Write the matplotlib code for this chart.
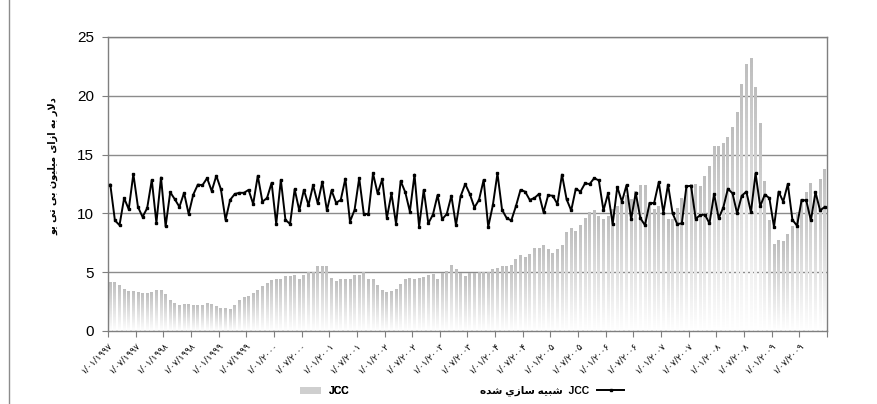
import numpy as np
import matplotlib.pyplot as plt
from matplotlib.colors import LinearSegmentedColormap
from matplotlib.font_manager import FontProperties
from matplotlib.lines import Line2D
from matplotlib.patches import Patch

# Monthly JCC price, Jan 1997 - Dec 2009 ($ per million BTU)
jcc = [
    4.15, 4.13, 3.84, 3.50, 3.33, 3.37, 3.30, 3.23, 3.23, 3.30, 3.45, 3.48,
    3.14, 2.63, 2.38, 2.14, 2.29, 2.28, 2.20, 2.20, 2.20, 2.35, 2.28, 2.10,
    1.92, 1.91, 1.84, 2.20, 2.63, 2.83, 2.92, 3.17, 3.48, 3.82, 4.05, 4.27,
    4.40, 4.40, 4.62, 4.65, 4.70, 4.40, 4.75, 4.95, 4.95, 5.50, 5.50, 5.50,
    4.45, 4.25, 4.40, 4.40, 4.40, 4.75, 4.75, 4.95, 4.40, 4.40, 3.85, 3.45,
    3.30, 3.35, 3.50, 3.95, 4.35, 4.45, 4.38, 4.45, 4.55, 4.75, 4.80, 4.38,
    4.85, 5.10, 5.55, 5.25, 4.85, 4.60, 4.85, 4.90, 4.95, 4.95, 4.95, 5.20,
    5.30, 5.45, 5.50, 5.55, 6.05, 6.45, 6.25, 6.50, 7.00, 7.00, 7.30, 6.90,
    6.60, 6.95, 7.30, 8.35, 8.75, 8.50, 9.00, 9.60, 10.05, 10.25, 9.70, 9.45,
    9.75, 10.30, 10.55, 11.00, 11.50, 11.20, 11.90, 12.35, 12.40, 10.90, 10.30, 10.60,
    10.00, 9.45, 9.50, 10.45, 11.30, 12.28, 12.43, 12.43, 12.28, 13.13, 13.99, 15.68,
    15.68, 15.92, 16.48, 17.33, 18.58, 20.94, 22.64, 23.20, 20.74, 17.62, 12.71, 9.39,
    7.39, 7.69, 7.60, 8.17, 8.88, 10.07, 11.15, 11.77, 12.57, 11.72, 12.85, 13.70,
]

# Simulated JCC series
jcc_sim = [
    12.45, 9.40, 9.00, 11.30, 10.35, 13.35, 10.55, 9.70, 10.45, 12.85, 9.20, 13.05,
    8.90, 11.80, 11.20, 10.55, 11.75, 9.95, 11.60, 12.45, 12.40, 13.00, 11.90, 13.20,
    12.05, 9.45, 11.15, 11.65, 11.75, 11.75, 12.00, 10.80, 13.20, 11.00, 11.30, 12.60,
    9.10, 12.85, 9.45, 9.10, 12.05, 10.25, 12.00, 10.70, 12.40, 10.85, 12.70, 10.25,
    11.95, 10.90, 11.15, 12.95, 9.30, 10.30, 13.00, 9.95, 9.95, 13.40, 11.70, 12.90,
    9.60, 11.70, 9.10, 12.75, 11.80, 10.15, 13.30, 8.87, 12.00, 9.15, 9.90, 11.55,
    9.50, 9.95, 11.50, 9.00, 11.45, 12.50, 11.65, 10.50, 11.15, 12.85, 8.85, 10.70,
    13.40, 10.30, 9.60, 9.40, 10.60, 12.00, 11.85, 11.15, 11.30, 11.65, 10.10, 11.55,
    11.50, 10.80, 13.30, 11.20, 10.25, 12.10, 11.85, 12.55, 12.50, 13.00, 12.80, 10.25,
    11.70, 9.10, 12.25, 11.00, 12.40, 9.50, 11.75, 9.60, 9.00, 10.85, 10.90, 12.65,
    10.05, 12.45, 10.00, 9.10, 9.15, 12.30, 12.35, 9.55, 9.85, 9.90, 9.15, 11.65,
    9.60, 10.50, 12.10, 11.70, 10.00, 11.50, 11.85, 10.10, 13.40, 10.60, 11.60, 11.30,
    8.85, 11.85, 11.00, 12.50, 9.45, 8.95, 11.15, 11.10, 9.40, 11.80, 10.25, 10.55,
]

tick_dates = [
    '1/01/1997', '1/07/1997', '1/01/1998', '1/07/1998', '1/01/1999', '1/07/1999',
    '1/01/2000', '1/07/2000', '1/01/2001', '1/07/2001', '1/01/2002', '1/07/2002',
    '1/01/2003', '1/07/2003', '1/01/2004', '1/07/2004', '1/01/2005', '1/07/2005',
    '1/01/2006', '1/07/2006', '1/01/2007', '1/07/2007', '1/01/2008', '1/07/2008',
    '1/01/2009', '1/07/2009',
]

y_title = 'دلار به ازای میلیون بی تی یو'
sim_title = 'شبیه سازي شده'

# --- minimal Arabic-script shaping (matplotlib draws glyphs left to right, unshaped)
# forms: isolated, final, initial, medial
FORMS = {
    'ا': ('\uFE8D', '\uFE8E', None, None),
    'ب': ('\uFE8F', '\uFE90', '\uFE91', '\uFE92'),
    'ت': ('\uFE95', '\uFE96', '\uFE97', '\uFE98'),
    'د': ('\uFEA9', '\uFEAA', None, None),
    'ر': ('\uFEAD', '\uFEAE', None, None),
    'ز': ('\uFEAF', '\uFEB0', None, None),
    'س': ('\uFEB1', '\uFEB2', '\uFEB3', '\uFEB4'),
    'ش': ('\uFEB5', '\uFEB6', '\uFEB7', '\uFEB8'),
    'ل': ('\uFEDD', '\uFEDE', '\uFEDF', '\uFEE0'),
    'م': ('\uFEE1', '\uFEE2', '\uFEE3', '\uFEE4'),
    'ن': ('\uFEE5', '\uFEE6', '\uFEE7', '\uFEE8'),
    'ه': ('\uFEE9', '\uFEEA', '\uFEEB', '\uFEEC'),
    'و': ('\uFEED', '\uFEEE', None, None),
    'ي': ('\uFEF1', '\uFEF2', '\uFEF3', '\uFEF4'),
    'ی': ('\uFEEF', '\uFEF0', '\uFEF3', '\uFEF4'),
}


def joins_next(ch):
    return ch in FORMS and FORMS[ch][2] is not None


def shape_rtl(text):
    out = []
    i = 0
    while i < len(text):
        ch = text[i]
        prev = text[i - 1] if i > 0 else ' '
        linked = joins_next(prev)
        if ch == 'ل' and i + 1 < len(text) and text[i + 1] == 'ا':
            out.append('\uFEFC' if linked else '\uFEFB')
            i += 2
            continue
        if ch not in FORMS:
            out.append(ch)
            i += 1
            continue
        nxt = text[i + 1] if i + 1 < len(text) else ' '
        fwd = joins_next(ch) and nxt in FORMS
        iso, fin, ini, med = FORMS[ch]
        if linked and fwd:
            out.append(med)
        elif linked:
            out.append(fin)
        elif fwd:
            out.append(ini)
        else:
            out.append(iso)
        i += 1
    return ''.join(out)[::-1]


def persian_digits(s):
    return s.translate(str.maketrans('0123456789', '۰۱۲۳۴۵۶۷۸۹'))


fig = plt.figure(figsize=(8.78, 4.04), dpi=100)
ax = fig.add_axes([108 / 878, 1 - 331 / 404, (827 - 108) / 878, (331 - 37) / 404])

months = np.arange(len(jcc))

# bars with a vertical grey-to-white fill
bars = ax.bar(months, jcc, width=0.62, color='none', edgecolor='none')
grad = np.linspace(0, 1, 128).reshape(-1, 1)
gray_fade = LinearSegmentedColormap.from_list('gray_fade', ['#ffffff', '#bebebe'])
for bar in bars:
    x0, h, w = bar.get_x(), bar.get_height(), bar.get_width()
    ax.imshow(grad, extent=[x0, x0 + w, 0, h], origin='lower', aspect='auto',
              cmap=gray_fade, interpolation='bilinear', zorder=2)

ax.plot(months, jcc_sim, color='black', lw=1.4, marker='s', ms=1.6, zorder=4)

ax.set_xlim(-0.5, len(jcc) - 0.5)
ax.set_ylim(0, 25)
ax.set_yticks(range(0, 26, 5))
ax.yaxis.grid(True, color='#8c8c8c', lw=1.0)
ax.set_axisbelow(True)
for side in ['left', 'right', 'top', 'bottom']:
    ax.spines[side].set_color('#7f7f7f')
    ax.spines[side].set_linewidth(1.0)

ax.set_xticks(np.arange(-0.5, len(jcc), 6))
ax.set_xticklabels([persian_digits(d) for d in tick_dates] + [''],
                   rotation=45, ha='right', rotation_mode='anchor',
                   fontsize=6.5, family='DejaVu Sans')
ax.tick_params(axis='x', length=4, color='#7f7f7f', pad=3)
ax.tick_params(axis='y', length=4, color='#7f7f7f', labelsize=11, pad=6)
for lbl in ax.get_yticklabels():
    lbl.set_family('Liberation Sans')

fig.text(53 / 878, 1 - 166 / 404, shape_rtl(y_title), rotation=90,
         ha='center', va='center', fontsize=7, weight='bold', family='DejaVu Sans')

# legend entries
leg_font = FontProperties(family=['Liberation Sans', 'DejaVu Sans'], weight='bold', size=7.5)
leg1 = fig.legend(handles=[Patch(facecolor='#cfcfcf', edgecolor='none')], labels=['JCC'],
                  loc='center', bbox_to_anchor=(325 / 878, 1 - 391 / 404),
                  frameon=False, prop=leg_font, handlelength=2.0, handleheight=0.6)
fig.add_artist(leg1)
fig.legend(handles=[Line2D([], [], color='black', lw=1.4, marker='s', ms=1.6)],
           labels=[shape_rtl(sim_title) + '  JCC'], markerfirst=False,
           loc='center', bbox_to_anchor=(552 / 878, 1 - 391 / 404),
           frameon=False, prop=leg_font, handlelength=2.6)

# chart frame
fig.add_artist(Line2D([8.5 / 878, 8.5 / 878], [0, 1], color='#8c8c8c', lw=1.0))

fig.savefig('out.png', dpi=100)
